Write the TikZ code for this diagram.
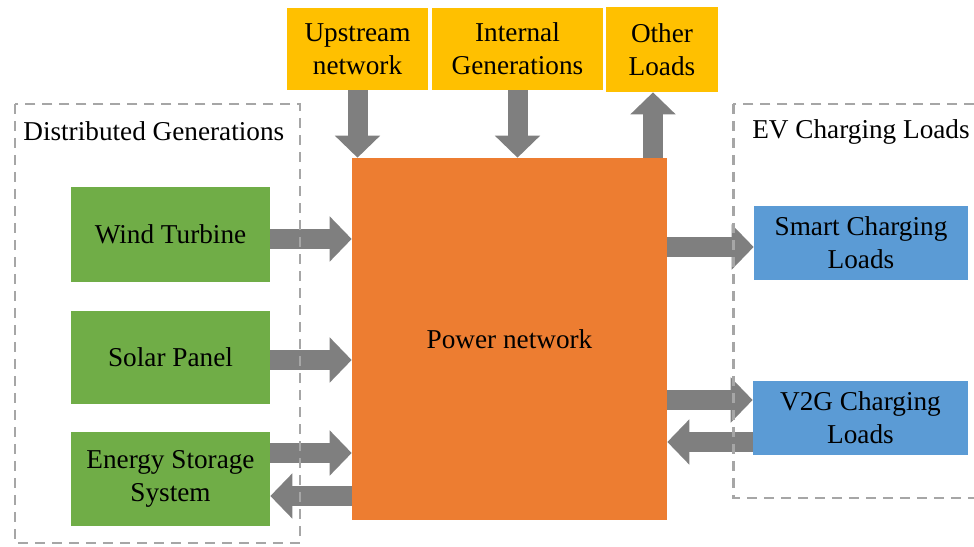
\documentclass[tikz,border=0pt]{standalone}
\usepackage{fontspec}
\setmainfont{LiberationSerif}[Extension=.ttf, UprightFont=*-Regular]
\newfontfamily\boxfont{LiberationSerif}[Extension=.ttf, UprightFont=*-Regular]
\usetikzlibrary{arrows.meta}
\definecolor{netorange}{HTML}{ED7D31}
\definecolor{srcyellow}{HTML}{FFC000}
\definecolor{dggreen}{HTML}{70AD47}
\definecolor{evblue}{HTML}{5B9BD5}
\definecolor{flowgray}{HTML}{7F7F7F}
\definecolor{groupgray}{HTML}{A6A6A6}
\tikzset{box/.style={fill=#1, align=center, inner sep=0pt,
        font=\boxfont\fontsize{15.5}{18.7}\selectfont},
    flow/.style={draw=flowgray, line width=0.4cm,
        -{Triangle[width=0.88cm,length=0.44cm]}},
    group/.style={draw=groupgray, line width=1.7pt, dash pattern=on 0.2cm off 0.14cm},
    grouplabel/.style={anchor=west, inner sep=0pt, font=\boxfont\fontsize{15.5}{18.7}\selectfont}}

\begin{document}
\begin{tikzpicture}[x=0.02cm,y=-0.02cm]
      \useasboundingbox (0,0) rectangle (974,547);
      % top row
      \node[box=srcyellow, minimum width=2.82cm, minimum height=1.64cm] (upstream) at (357.5,49) {Upstream\\network};
      \node[box=srcyellow, minimum width=3.42cm, minimum height=1.64cm] (internal) at (517.5,49) {Internal\\Generations};
      \node[box=srcyellow, minimum width=2.24cm, minimum height=1.7cm] (other) at (662,49.5) {Other\\Loads};
      % network
      \node[box=netorange, minimum width=6.3cm, minimum height=7.24cm] (power) at (509.5,339) {Power network};
      % distributed generations
      \node[box=dggreen, minimum width=3.98cm, minimum height=1.9cm] (wind) at (170.5,234.5) {Wind Turbine};
      \node[box=dggreen, minimum width=3.98cm, minimum height=1.86cm] (solar) at (170.5,357.5) {Solar Panel};
      \node[box=dggreen, minimum width=3.98cm, minimum height=1.88cm] (ess) at (170.5,479) {Energy Storage\\System};
      % EV loads
      \node[box=evblue, minimum width=4.28cm, minimum height=1.48cm] (smart) at (861,243) {Smart Charging\\Loads};
      \node[box=evblue, minimum width=4.3cm, minimum height=1.48cm] (v2g) at (860.5,418) {V2G Charging\\Loads};
      % flows
      \draw[flow] (upstream.south) -- (upstream.south |- power.north);
      \draw[flow] (internal.south) -- (internal.south |- power.north);
      \draw[flow] ([xshift=-0.18cm]other.south |- power.north) -- ([xshift=-0.18cm]other.south);
      \draw[flow] ([yshift=-0.09cm]wind.east) -- ([yshift=-0.09cm]wind.east -| power.west);
      \draw[flow] ([yshift=-0.05cm]solar.east) -- ([yshift=-0.05cm]solar.east -| power.west);
      \draw[flow] ([yshift=0.52cm]ess.east) -- ([yshift=0.52cm]ess.east -| power.west);
      \draw[flow] ([yshift=-0.34cm]ess.east -| power.west) -- ([yshift=-0.34cm]ess.east);
      \draw[flow] ([yshift=-0.08cm]smart.west -| power.east) -- ([yshift=-0.08cm]smart.west);
      \draw[flow] ([yshift=0.36cm]v2g.west -| power.east) -- ([yshift=0.36cm]v2g.west);
      \draw[flow] ([yshift=-0.48cm]v2g.west) -- ([yshift=-0.48cm]v2g.west -| power.east);
      % groups
      \draw[group] (15,104) rectangle (300,543);
      \node[grouplabel] (dglabel) at (23,131) {Distributed Generations};
      \draw[group] (733,104) rectangle (995,498);
      \node[grouplabel] (evlabel) at (752,132) {EV Charging Loads};
\end{tikzpicture}
\end{document}
